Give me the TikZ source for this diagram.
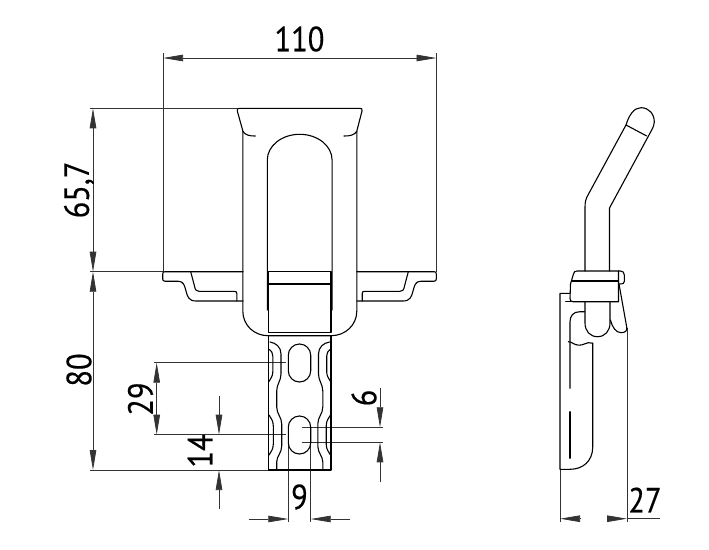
\documentclass[tikz,border=0pt]{standalone}
\usepackage{fontspec}
\setmainfont[FakeStretch=0.87,FakeBold=0.4]{PT Sans}
\usetikzlibrary{arrows.meta}
\tikzset{
  obj/.style={draw=black,line width=1.1pt,line cap=round,line join=round},
  dimthin/.style={draw=black!80,line width=0.75pt},
  dimarrow/.style={dimthin,-{Triangle[length=20pt,width=6.5pt]}},
  dimboth/.style={dimthin,{Triangle[length=20pt,width=6.5pt]}-{Triangle[length=20pt,width=6.5pt]}},
  lab/.style={font=\fontsize{35}{35}\selectfont,inner sep=0pt,text=black}
}
\begin{document}
\begin{tikzpicture}[x=1pt,y=-1pt]
\useasboundingbox (0,0) rectangle (709,549);
% ---- dimension lines
\draw[dimthin] (163,53) -- (163,271.7) -- (90,271.7);
\draw[dimthin] (436.5,53) -- (436.5,271.7);
\draw[dimthin] (90,108.3) -- (237,108.3);
\draw[dimthin] (90,470) -- (269,470);
\draw[dimboth] (163,58) -- (436.5,58);
\draw[dimboth] (93,108.3) -- (93,271.7);
\draw[dimboth] (93,271.7) -- (93,470);
\draw[dimthin] (154,362.7) -- (286,362.7);
\draw[dimthin] (154,434.7) -- (286,434.7);
\draw[dimboth] (156.7,362.7) -- (156.7,434.7);
\draw[dimarrow] (219,396) -- (219,434.7);
\draw[dimarrow] (219,509.3) -- (219,470);
\draw[dimthin] (301.7,427.3) -- (382.7,427.3);
\draw[dimthin] (301.7,442.3) -- (382.7,442.3);
\draw[dimarrow] (380,388.3) -- (380,427.3);
\draw[dimarrow] (380,482.3) -- (380,442.3);
\draw[dimthin] (288.3,440) -- (288.3,521.7);
\draw[dimthin] (310.7,440) -- (310.7,521.7);
\draw[dimarrow] (248.7,519) -- (288.3,519);
\draw[dimarrow] (350,519) -- (310.7,519);
\draw[dimthin] (560,469) -- (560,521.5);
\draw[dimthin] (627,328) -- (627,521.5);
\draw[dimarrow] (580,518.7) -- (560,518.7);
\draw[dimarrow] (607,518.7) -- (627,518.7);
\draw[dimthin] (627,518.7) -- (660,518.7);
% ---- labels
\node[lab] (l110) at (299.5,39) {110};
\node[lab,rotate=90] (l657) at (79,190) {65,7};
\node[lab,rotate=90] (l80) at (79,370) {80};
\node[lab,rotate=90] (l29) at (140.5,399) {29};
\node[lab,rotate=90] (l14) at (200,451) {14};
\node[lab,rotate=90] (l6) at (364,398) {6};
\node[lab] (l9) at (299.5,497) {9};
\node[lab] (l27) at (645,500) {27};
% ---- front view: head and body
\draw[obj] (243,131.5) -- (237.3,111) .. controls (236.8,109) and (237.5,108.3) .. (239.5,108.3)
  -- (359.8,108.3) .. controls (361.8,108.3) and (362.5,109) .. (362,111) -- (356.7,131.5);
\draw[obj] (243,131.5) .. controls (245,135) and (250,136.2) .. (255.3,136);
\draw[obj] (356.7,131.5) .. controls (354.5,135) and (349.5,136.2) .. (344,136);
\draw[obj] (242.8,131.5) -- (242.8,311) .. controls (242.8,325) and (254,335.7) .. (268,335.7)
  -- (331,335.7) .. controls (345.5,335.7) and (356.8,325) .. (356.8,311) -- (356.8,131.5);
% slot
\draw[obj] (267.3,310) -- (267.3,160) arc[start angle=180,end angle=360,x radius=32.4,y radius=25.7] -- (332.1,310);
% slider
\draw[obj] (268.5,271.7) rectangle (331,332.3);
\draw[obj] (268.5,284) -- (331,284);
% flange left
\draw[obj] (243,271.7) -- (165,271.7) .. controls (163.3,271.7) and (162.7,272.3) .. (162.7,274)
  -- (162.7,279) .. controls (162.7,280.5) and (163.5,281.2) .. (165,281.2) -- (178,281.2)
  .. controls (184,281.2) and (184.5,286) .. (186,291) .. controls (187.5,297) and (189,301) .. (196,301) -- (243,301);
\draw[obj] (190.7,271.7) -- (194.6,286.5) .. controls (195.2,290) and (196.5,291.3) .. (199,291.3)
  -- (234.5,291.3) .. controls (236,291.3) and (236.8,292) .. (236.8,293.5) -- (236.8,301);
% flange right
\draw[obj] (356.8,271.7) -- (434,271.7) .. controls (435.7,271.7) and (436.3,272.3) .. (436.3,274)
  -- (436.3,279) .. controls (436.3,280.5) and (435.5,281.2) .. (434,281.2) -- (421,281.2)
  .. controls (415,281.2) and (414.5,286) .. (413,291) .. controls (411.5,297) and (410,301) .. (403,301) -- (356.8,301);
\draw[obj] (408.3,271.7) -- (404.4,286.5) .. controls (403.8,290) and (402.5,291.3) .. (400,291.3)
  -- (364.5,291.3) .. controls (363,291.3) and (362.2,292) .. (362.2,293.5) -- (362.2,301);
% shaft
\draw[obj] (268.5,336) -- (268.5,470) -- (331,470) -- (331,336);
\draw[obj] (288.3,355.2) arc[start angle=180,end angle=360,radius=11.2] -- (310.7,370.8) arc[start angle=0,end angle=180,radius=11.2] -- cycle;
\draw[obj] (288.3,427.2) arc[start angle=180,end angle=360,radius=11.2] -- (310.7,442.8) arc[start angle=0,end angle=180,radius=11.2] -- cycle;
% left lattice
\draw[obj] (270,342) .. controls (276,343) and (281,347) .. (281,354) -- (281,374) .. controls (281,381) and (276.7,384) .. (276.7,391)
  -- (276.7,407) .. controls (276.7,414) and (281.7,417) .. (281.7,424) -- (281.7,446) .. controls (281.7,453) and (276.7,456) .. (276.7,462) -- (276.7,470);
\draw[obj] (269.5,349.5) .. controls (271.5,351) and (272.8,353) .. (272.8,356) -- (272.8,372) .. controls (272.8,376) and (270.5,379) .. (269,381.5);
\draw[obj] (269,415) .. controls (271,418) and (273.3,421) .. (273.3,426) -- (273.3,444) .. controls (273.3,449) and (271,452) .. (269,455);
% right lattice
\draw[obj] (329.5,342) .. controls (323.5,343) and (318.5,347) .. (318.5,354) -- (318.5,374) .. controls (318.5,381) and (322.8,384) .. (322.8,391)
  -- (322.8,407) .. controls (322.8,414) and (317.8,417) .. (317.8,424) -- (317.8,446) .. controls (317.8,453) and (322.8,456) .. (322.8,462) -- (322.8,470);
\draw[obj] (330,349.5) .. controls (328,351) and (326.7,353) .. (326.7,356) -- (326.7,372) .. controls (326.7,376) and (329,379) .. (330.5,381.5);
\draw[obj] (330.5,415) .. controls (328.5,418) and (326.2,421) .. (326.2,426) -- (326.2,444) .. controls (326.2,449) and (328.5,452) .. (330.5,455);
% ---- side view: handle
\draw[obj] (585,271) -- (585,207) .. controls (585,202) and (586,198) .. (588,195) -- (626,125)
  .. controls (629,115) and (634,107.7) .. (641,107.7) .. controls (649,107.7) and (654.3,114) .. (654.3,122)
  .. controls (654.3,125) and (653,127.5) .. (651.7,130) -- (609.5,208) -- (609.5,271);
\draw[obj] (626,125) -- (646.7,136);
% collar
\draw[obj] (573.3,274.5) .. controls (573.6,272) and (575,271) .. (577,271) -- (618.5,271) -- (618.5,301.7) -- (573,301.7)
  .. controls (571,301.7) and (570,300.5) .. (570,298.5) -- (570.5,284) -- cycle;
\draw[obj] (572,281) -- (618.5,281);
\draw[obj] (618.5,271) -- (620.5,271) .. controls (623,271) and (624.3,272.5) .. (624.3,275) -- (624.3,281.5) .. controls (624.3,283.5) and (623,284) .. (619,284);
% lower handle
\draw[obj] (585,301.7) -- (585,323) .. controls (585,331) and (590,336.7) .. (597.5,336.7) .. controls (605,336.7) and (610,331) .. (610,323) -- (610,301.7);
\draw[obj] (610.5,320) .. controls (612,327) and (616,332.7) .. (621,332.7) .. controls (625,332.7) and (627.5,331) .. (626.7,327) -- (619,284);
% base plate
\draw[obj] (570,293.3) -- (560,293.3) -- (560,469.3) -- (570,469.3) .. controls (583,469.3) and (592.7,461) .. (592.7,447) -- (592.7,343.2);
\draw[obj] (565.7,301.3) -- (571,301.3);
\draw[obj] (568.3,341.7) .. controls (572,341.5) and (574,345.2) .. (579,345.2) .. controls (584,345.2) and (586,342.5) .. (588.3,342.7) -- (592.7,343.2);
\draw[obj] (584.5,311.7) -- (580,311.7) .. controls (573,311.7) and (570,316) .. (570,322) -- (570,388.3);
\draw[obj] (570,411.7) -- (570,458.3);
\end{tikzpicture}
\end{document}
